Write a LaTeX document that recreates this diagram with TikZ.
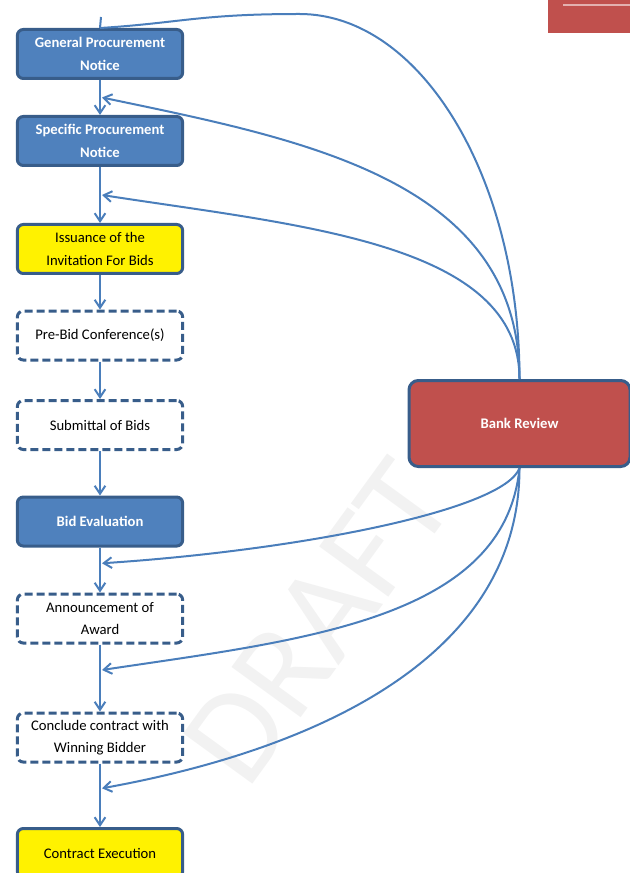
\documentclass[tikz,border=0pt]{standalone}
\usepackage{fontspec}
\setmainfont{Carlito}
\usepackage{tikz}
\usetikzlibrary{positioning, calc, arrows.meta}
\definecolor{boxBlue}{HTML}{4F81BD}
\definecolor{edgeBlue}{HTML}{385D8A}
\definecolor{lineBlue}{HTML}{4A7EBB}
\definecolor{bankRed}{HTML}{C0504D}
\tikzset{
	every text node part/.style= {
		align=center
	},
	stage/.style= {
		rectangle,
		rounded corners=4.5pt,
		draw=edgeBlue,
		line width=2.25pt,
		minimum width=124pt,
		minimum height=36.75pt,
		font=\fontsize{11}{17}\selectfont
	},
	bluestage/.style= {
		stage,
		fill=boxBlue,
		text=white,
		font=\fontsize{11}{17}\selectfont\bfseries
	},
	yellowstage/.style= {
		stage,
		fill=yellow
	},
	optstage/.style= {
		stage,
		fill=white,
		dash pattern=on 6pt off 3pt
	},
	reviewstage/.style= {
		stage,
		rounded corners=7pt,
		fill=bankRed,
		text=white,
		minimum width=165.75pt,
		minimum height=64.5pt,
		font=\fontsize{11}{17}\selectfont\bfseries
	},
	flow/.style= {
		lineBlue,
		line width=1.5pt,
		-{Straight Barb[length=6pt,width=8pt]}
	}
}

\begin{document}
\begin{tikzpicture}[x=0.75pt, y=-0.75pt]
	\useasboundingbox (0,0) rectangle (629,873);
	
	% watermark
	\node (mark)[rotate=54, text=black!5, inner sep=0pt, font=\fontsize{100}{100}\selectfont] at (318,622) {DRAFT};
	\fill[bankRed] (548,-3) rectangle (633,33);
	\draw[white!55!bankRed, line width=0.8pt] (563,5) -- (633,5);
	
	\node (gpn)[bluestage] at (100,54) {General Procurement\\Notice};
	\node (spn)[bluestage, below=26.25pt of gpn] {Specific Procurement\\Notice};
	\node (ifb)[yellowstage, below=42pt of spn] {Issuance of the\\Invitation For Bids};
	\node (prebid)[optstage, below=25.9pt of ifb] {Pre-Bid Conference(s)};
	\node (submit)[optstage, below=28.1pt of prebid] {Submittal of Bids};
	\node (bideval)[bluestage, below=33.4pt of submit] {Bid Evaluation};
	\node (award)[optstage, below=33.75pt of bideval] {Announcement of\\Award};
	\node (conclude)[optstage, below=50.25pt of award] {Conclude contract with\\Winning Bidder};
	\node (execution)[yellowstage, below=47.6pt of conclude] {Contract Execution};
	
	\node (bank)[reviewstage] at (519.5,423.5) {Bank Review};
	
	\draw[flow](gpn) to (spn);
	\draw[flow](spn) to (ifb);
	\draw[flow](ifb) to (prebid);
	\draw[flow](prebid) to (submit);
	\draw[flow](submit) to (bideval);
	\draw[flow](bideval) to (award);
	\draw[flow](award) to (conclude);
	\draw[flow](conclude) to (execution);
	
	% where the review comes back in
	\coordinate (feed) at ($(gpn.north)+(1,-11)$);
	\coordinate (back1) at ($(gpn.south)!0.5!(spn.north)+(2,0)$);
	\coordinate (back2) at ($(spn.south)!0.5!(ifb.north)+(2,0)$);
	\coordinate (back3) at ($(bideval.south)!0.35!(award.north)+(2,0)$);
	\coordinate (back4) at ($(award.south)!0.38!(conclude.north)+(2,0)$);
	\coordinate (back5) at ($(conclude.south)!0.39!(execution.north)+(2,0)$);
	
	\draw[lineBlue, line width=1.5pt](feed) -- (gpn.north);
	\draw[lineBlue, line width=1.5pt](bank.north) .. controls +(0,-202) and +(121,0) .. ++(-220,-365) .. controls +(-100,0) and +(80,-5) .. (gpn.north);
	\draw[flow](bank.north) .. controls +(0,-200) and +(200,42) .. (back1);
	\draw[flow](bank.north) .. controls +(0,-136) and +(200,31) .. (back2);
	\draw[flow](bank.south) .. controls +(-15,42) and +(198,-13) .. (back3);
	\draw[flow](bank.south) .. controls +(-15,152) and +(200,-30) .. (back4);
	\draw[flow](bank.south) .. controls +(0,196) and +(200,-36) .. (back5);
	
\end{tikzpicture}
\end{document}
